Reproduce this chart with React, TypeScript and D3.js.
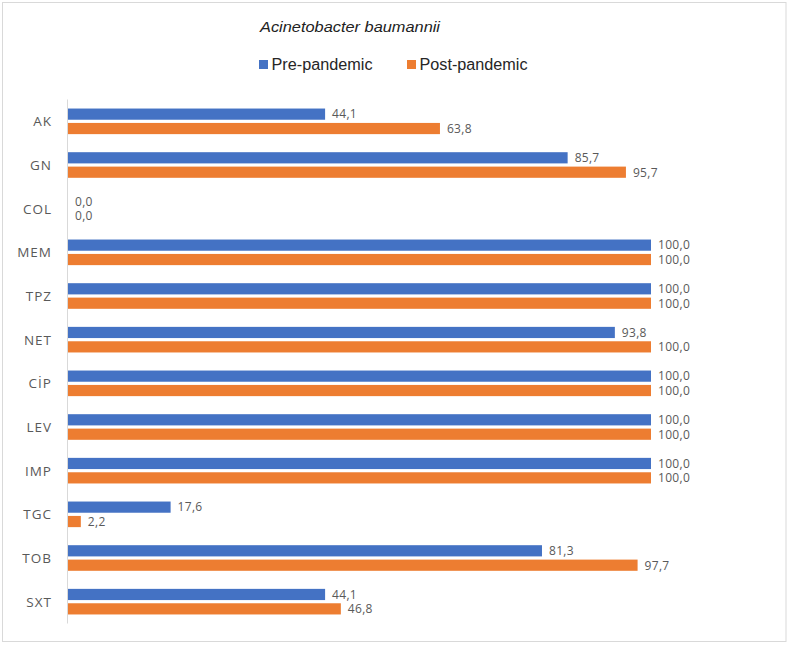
import React from "react";
import * as d3 from "d3";

const categories = ["AK", "GN", "COL", "MEM", "TPZ", "NET", "CİP", "LEV", "IMP", "TGC", "TOB", "SXT"];
const prePandemic = [44.1, 85.7, 0.0, 100.0, 100.0, 93.8, 100.0, 100.0, 100.0, 17.6, 81.3, 44.1];
const postPandemic = [63.8, 95.7, 0.0, 100.0, 100.0, 100.0, 100.0, 100.0, 100.0, 2.2, 97.7, 46.8];
const seriesNames = ["Pre-pandemic", "Post-pandemic"];
const colors = ["#4472C4", "#ED7D31"];

const W = 789;
const H = 645;

export default function App() {
  const x = d3.scaleLinear().domain([0, 100]).range([68, 651]);
  const y = d3.scaleBand().domain(categories).range([99.5, 623.5]).paddingInner(0).paddingOuter(0);
  const barH = 11.2;
  const gap = 3.2;
  const series = [prePandemic, postPandemic];
  const fmt = (v: number) => v.toFixed(1).replace(".", ",");
  const legendX = [259, 407];
  const legendLen = [101, 108];

  return (
    <svg width={W} height={H} style={{ position: "absolute", left: 0, top: 0 }}>
      <rect x={0} y={0} width={W} height={H} fill="#fff" />
      <rect x={2.5} y={2.5} width={783.5} height={639} fill="#fff" stroke="#d9d9d9" strokeWidth={1} />
      <text x={260} y={32} textLength={180} lengthAdjust="spacingAndGlyphs" fontFamily="Liberation Sans, Arial, sans-serif" fontStyle="italic" fontSize={15} fill="#222">
        Acinetobacter baumannii
      </text>
      {seriesNames.map((n, i) => {
        const lx = legendX[i];
        return (
          <g key={n}>
            <rect x={lx} y={60} width={9} height={9} fill={colors[i]} />
            <text x={lx + 12.5} y={70} textLength={legendLen[i]} lengthAdjust="spacingAndGlyphs" fontFamily="Liberation Sans, Arial, sans-serif" fontSize={16} fill="#262626">
              {n}
            </text>
          </g>
        );
      })}
      <line x1={67.5} x2={67.5} y1={y.range()[0]} y2={y.range()[1]} stroke="#d9d9d9" strokeWidth={1} />
      {categories.map((c, ci) => {
        const cy = (y(c) as number) + y.bandwidth() / 2;
        return (
          <g key={c}>
            <text x={52} y={cy + 5} textAnchor="end" fontFamily="Open Sans, Noto Sans, sans-serif" fontSize={13.5} letterSpacing={1} fill="#595959">
              {c}
            </text>
            {series.map((s, si) => {
              const v = s[ci];
              const by = si === 0 ? cy - gap / 2 - barH : cy + gap / 2;
              const w = x(v) - x(0);
              return (
                <g key={si}>
                  {w > 0 && <rect x={x(0)} y={by} width={w} height={barH} fill={colors[si]} />}
                  <text x={x(v) + 7} y={by + barH / 2 + 4.3} fontFamily="Open Sans, Noto Sans, sans-serif" fontSize={12} letterSpacing={0.3} fill="#595959">
                    {fmt(v)}
                  </text>
                </g>
              );
            })}
          </g>
        );
      })}
    </svg>
  );
}
